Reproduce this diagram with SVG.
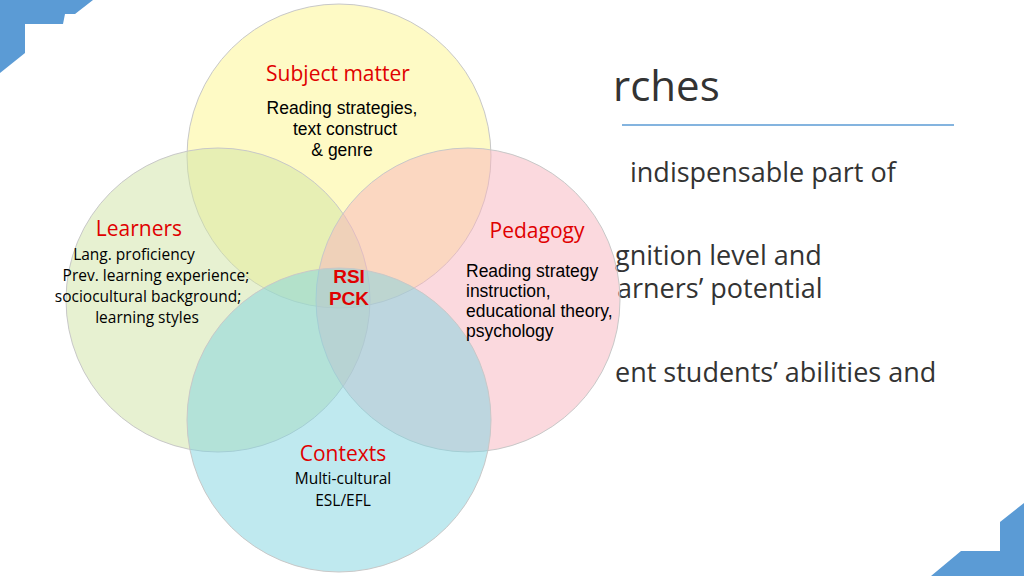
<svg xmlns="http://www.w3.org/2000/svg" width="1024" height="576" viewBox="0 0 1024 576">
<style>
.c{stroke:#c8c8c8;stroke-width:1;fill-opacity:0.5}
.h{font-family:"Open Sans","Liberation Sans",sans-serif;font-size:21px;fill:#e00000}
.a{font-family:"Liberation Sans",Arial,sans-serif;font-size:17.5px;fill:#000}
.o{font-family:"Open Sans","Liberation Sans",sans-serif;font-size:15.5px;fill:#000}
.b{font-family:"Open Sans","Liberation Sans",sans-serif;font-size:27px;fill:#333}
</style>
<rect width="1024" height="576" fill="#fff"/>
<g id="background">
<text x="613" y="101" class="b" style="font-size:42px">rches</text>
<line x1="622" y1="125" x2="954" y2="125" stroke="#5b9bd5" stroke-width="1.5"/>
<text x="630" y="182" class="b">indispensable part of</text>
<text x="615" y="265" class="b">gnition level and</text>
<text x="617" y="298" class="b">arners’ potential</text>
<text x="615" y="382" class="b">ent students’ abilities and</text>
<polygon points="0,0 93,0 75,14 65,14 63,24 25,24 25,53 0,73" fill="#5b9bd5"/>
<polygon points="1024,503 1000,522 1000,551 961,551 931,576 1024,576" fill="#5b9bd5"/>
</g>
<g id="connectors"></g>
<g id="subject"><circle class="c" cx="339" cy="156" r="152" fill="#fdf68c"/></g>
<g id="learners"><circle class="c" cx="218" cy="300" r="152" fill="#cfe3a3"/></g>
<g id="pedagogy"><circle class="c" cx="468" cy="300" r="152" fill="#f7b4bd"/></g>
<g id="contexts"><circle class="c" cx="339" cy="420" r="152" fill="#7fd3e0"/></g>
<g id="labels">
<text x="338" y="81" class="h" text-anchor="middle">Subject matter</text>
<text x="342" y="114" class="a" text-anchor="middle">Reading strategies,</text>
<text x="345" y="135" class="a" text-anchor="middle">text construct</text>
<text x="342" y="156" class="a" text-anchor="middle">&amp; genre</text>
<text x="139" y="236" class="h" text-anchor="middle">Learners</text>
<text x="134" y="260" class="o" text-anchor="middle">Lang. proficiency</text>
<text x="156" y="281" class="o" text-anchor="middle">Prev. learning experience;</text>
<text x="148" y="302" class="o" text-anchor="middle">sociocultural background;</text>
<text x="147" y="323" class="o" text-anchor="middle">learning styles</text>
<text x="537" y="238" class="h" text-anchor="middle">Pedagogy</text>
<text x="466" y="277" class="a">Reading strategy</text>
<text x="466" y="297" class="a">instruction,</text>
<text x="466" y="317" class="a">educational theory,</text>
<text x="466" y="337" class="a">psychology</text>
<text x="349" y="283" class="a" text-anchor="middle" style="font-size:19px;font-weight:bold;fill:#e00000">RSI</text>
<text x="349" y="305" class="a" text-anchor="middle" style="font-size:19px;font-weight:bold;fill:#e00000">PCK</text>
<text x="343" y="461" class="h" text-anchor="middle">Contexts</text>
<text x="343" y="484" class="o" text-anchor="middle">Multi-cultural</text>
<text x="343" y="506" class="o" text-anchor="middle">ESL/EFL</text>
</g>
</svg>
